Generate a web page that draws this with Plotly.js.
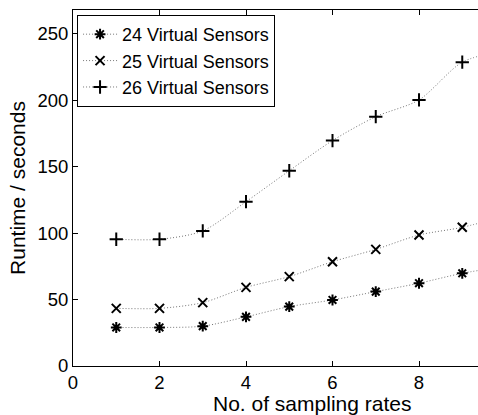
<!DOCTYPE html>
<html>
<head>
<meta charset="utf-8">
<script src="https://cdn.plot.ly/plotly-3.0.1.min.js"></script>
<style>
html,body{margin:0;padding:0;background:#fff;}
#chart{width:478px;height:415px;}
</style>
</head>
<body>
<div id="chart"></div>
<script>
var samplingRates = [1, 2, 3, 4, 5, 6, 7, 8, 9, 10];
var sensors24 = [29, 29, 30, 37, 44.7, 49.7, 56, 62.3, 69.8, 75];
var sensors25 = [43.4, 43.4, 47.7, 59.2, 67.3, 78.5, 87.8, 98.6, 104.4, 113];
var sensors26 = [95.4, 95.4, 101.7, 123.7, 147, 169.7, 187.7, 200.3, 228.7, 238];
var seriesNames = ['24 Virtual Sensors', '25 Virtual Sensors', '26 Virtual Sensors'];
var xTicks = [0, 2, 4, 6, 8];
var yTicks = [0, 50, 100, 150, 200, 250];
var xTitle = 'No. of sampling rates';
var yTitle = 'Runtime / seconds';

var family = 'Liberation Sans, Arial, sans-serif';
var tickFont = {family: family, size: 18.5, color: '#000'};
var legendFont = {family: family, size: 18, color: '#000'};
var titleFont = {family: family, size: 21, color: '#000'};

function series(name, y, symbol, size) {
  return {
    x: samplingRates, y: y, name: name, type: 'scatter', mode: 'lines+markers',
    line: {color: '#777', width: 1, dash: '1px,2px', shape: 'spline', smoothing: 0.8},
    marker: {symbol: symbol, size: size, color: '#000', line: {color: '#000', width: 2}},
    cliponaxis: true
  };
}

var data = [
  series(seriesNames[0], sensors24, 'asterisk-open', 9),
  series(seriesNames[1], sensors25, 'x-thin-open', 9),
  series(seriesNames[2], sensors26, 'cross-thin-open', 9.5)
];

var layout = {
  width: 478, height: 415,
  margin: {l: 73, r: 0, t: 10, b: 49},
  paper_bgcolor: '#fff', plot_bgcolor: '#fff',
  font: tickFont,
  showlegend: true,
  legend: {
    x: 0.01, y: 0.986, xanchor: 'left', yanchor: 'top',
    bordercolor: '#000', borderwidth: 1, bgcolor: '#fff',
    font: legendFont, tracegroupgap: 0, itemwidth: 34
  },
  xaxis: {
    range: [0, 9.364], tickvals: xTicks, ticktext: xTicks.map(String),
    showgrid: false, zeroline: false, showline: true, linecolor: '#000', linewidth: 1,
    ticks: 'inside', ticklen: 5, tickcolor: '#000', mirror: 'ticks',
    tickfont: tickFont
  },
  yaxis: {
    range: [0, 268], tickvals: yTicks, ticktext: yTicks.map(String),
    showgrid: false, zeroline: false, showline: true, linecolor: '#000', linewidth: 1,
    ticks: 'inside', ticklen: 5, tickcolor: '#000',
    tickfont: tickFont,
    title: {text: yTitle, font: titleFont, standoff: 6}
  },
  annotations: [{
    text: xTitle, xref: 'paper', yref: 'paper', x: 0.591, y: -0.1067,
    xanchor: 'center', yanchor: 'middle', showarrow: false, font: titleFont
  }]
};

Plotly.newPlot('chart', data, layout, {displayModeBar: false, staticPlot: true});
</script>
</body>
</html>
